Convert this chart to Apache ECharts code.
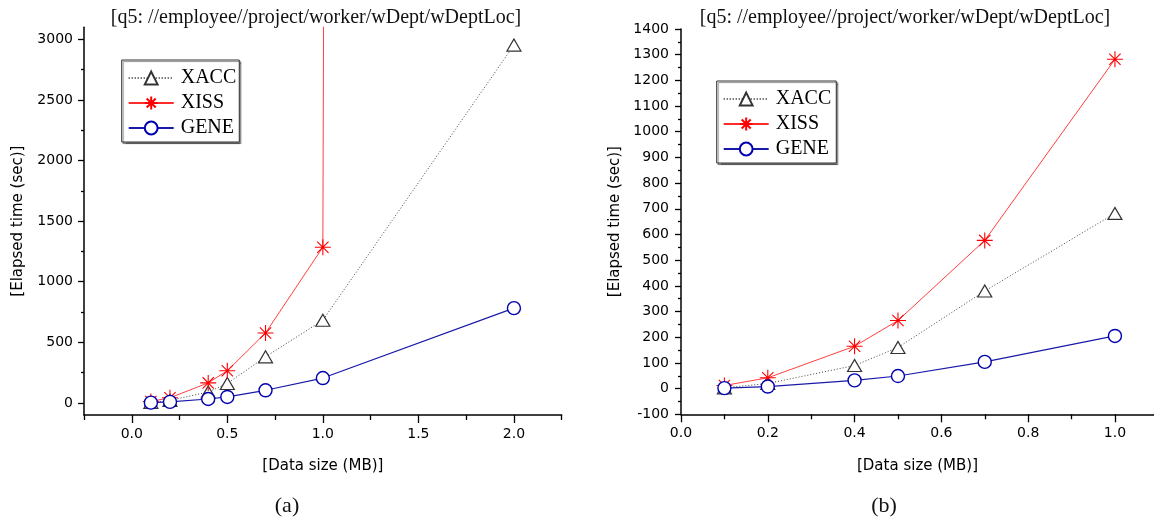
<!DOCTYPE html>
<html><head><meta charset="utf-8">
<script src="https://cdn.jsdelivr.net/npm/echarts@6/dist/echarts.min.js"></script>
<style>html,body{margin:0;padding:0;background:#fff}#c{width:1154px;height:521px}</style>
</head><body><div id="c"></div>
<script>
// ---- data ----
const TITLE = '[q5: //employee//project/worker/wDept/wDeptLoc]';
const seriesNames = ['XACC', 'XISS', 'GENE'];
// chart (a)
const sizesA = [0.1, 0.2, 0.4, 0.5, 0.7, 1.0, 2.0];
const xaccA = [3, 20, 90, 160, 380, 682, 2953];
const xissA = [12, 42, 165, 265, 577, 1285, 500000]; // last value is off the scale (line leaves the top)
const geneA = [2, 8, 32, 49, 104, 205, 782];
// chart (b)
const sizesB = [0.1, 0.2, 0.4, 0.5, 0.7, 1.0];
const xaccB = [3, 20, 90, 160, 380, 682];
const xissB = [12, 42, 165, 265, 577, 1282];
const geneB = [2, 8, 32, 49, 104, 205];
// ticks
const xTicksA = [0, 0.5, 1.0, 1.5, 2.0];
const xMinorA = [-0.25, 0.25, 0.75, 1.25, 1.75, 2.25];
const yTicksA = [0, 500, 1000, 1500, 2000, 2500, 3000];
const yMinorA = [250, 750, 1250, 1750, 2250, 2750];
const xTicksB = [0, 0.2, 0.4, 0.6, 0.8, 1.0];
const xMinorB = [0.1, 0.3, 0.5, 0.7, 0.9];
const yTicksB = [-100, 0, 100, 200, 300, 400, 500, 600, 700, 800, 900, 1000, 1100, 1200, 1300, 1400];
const yMinorB = [-50, 50, 150, 250, 350, 450, 550, 650, 750, 850, 950, 1050, 1150, 1250, 1350];

const zip = (xs, ys) => xs.map((x, i) => [x, ys[i]]);
const SANS = 'DejaVu Sans';
const SERIF = 'Liberation Serif';
const AXC = '#000';

function mainX(grid, min, max, ticks) {
  return {
    type: 'value', gridIndex: grid, min, max, position: 'bottom',
    axisLine: { show: true, onZero: false, lineStyle: { color: AXC, width: 1.5 } },
    axisTick: { show: true, customValues: ticks, length: 8, lineStyle: { color: AXC, width: 1.3 } },
    axisLabel: { customValues: ticks, formatter: v => Number(v).toFixed(1), margin: 12, color: '#000', fontFamily: SANS, fontSize: 14 },
    splitLine: { show: false },
    name: '[Data size (MB)]', nameLocation: 'middle', nameGap: 44,
    nameTextStyle: { fontFamily: SANS, fontSize: 15, color: '#000' }
  };
}
function minorX(grid, min, max, ticks) {
  return {
    type: 'value', gridIndex: grid, min, max, position: 'bottom',
    axisLine: { show: false, onZero: false },
    axisTick: { show: true, customValues: ticks, length: 5, lineStyle: { color: AXC, width: 1.3 } },
    axisLabel: { show: false }, splitLine: { show: false }
  };
}
function mainY(grid, min, max, ticks, margin) {
  return {
    type: 'value', gridIndex: grid, min, max, position: 'left',
    axisLine: { show: true, onZero: false, lineStyle: { color: AXC, width: 1.5 } },
    axisTick: { show: true, customValues: ticks, length: 6, lineStyle: { color: AXC, width: 1.3 } },
    axisLabel: { customValues: ticks, formatter: v => String(Math.round(v)), margin, color: '#000', fontFamily: SANS, fontSize: 14 },
    splitLine: { show: false },
    name: '[Elapsed time (sec)]', nameLocation: 'middle', nameGap: 58, nameRotate: 90,
    nameTextStyle: { fontFamily: SANS, fontSize: 15, color: '#000' }
  };
}
function minorY(grid, min, max, ticks) {
  return {
    type: 'value', gridIndex: grid, min, max, position: 'left',
    axisLine: { show: false, onZero: false },
    axisTick: { show: true, customValues: ticks, length: 3, lineStyle: { color: AXC, width: 1.3 } },
    axisLabel: { show: false }, splitLine: { show: false }
  };
}

const STAR = 'path://M0,-10L0,10M-10,0L10,0M-7.07,-7.07L7.07,7.07M-7.07,7.07L7.07,-7.07';
function makeSeries(axisIdx, xs, xacc, xiss, gene) {
  return [
    { name: 'XACC', type: 'line', xAxisIndex: axisIdx, yAxisIndex: axisIdx, data: zip(xs, xacc),
      symbol: 'triangle', symbolSize: [14, 12],
      lineStyle: { color: '#444', width: 1, type: [1, 2] },
      itemStyle: { color: '#fff', borderColor: '#333', borderWidth: 1.2 } },
    { name: 'XISS', type: 'line', xAxisIndex: axisIdx, yAxisIndex: axisIdx, data: zip(xs, xiss),
      symbol: STAR, symbolSize: 16,
      lineStyle: { color: '#ff2a2a', width: 0.9 },
      itemStyle: { color: '#ff0000', borderColor: '#ff0000', borderWidth: 1.1 } },
    { name: 'GENE', type: 'line', xAxisIndex: axisIdx, yAxisIndex: axisIdx, data: zip(xs, gene),
      symbol: 'circle', symbolSize: 13,
      lineStyle: { color: '#1a1aaa', width: 1.2 },
      itemStyle: { color: '#fff', borderColor: '#0000b0', borderWidth: 1.4 } }
  ].map(s => Object.assign(s, { animation: false, clip: true, emphasis: { disabled: true } }));
}

function legendAt(left, top, pad) {
  return {
    data: seriesNames, orient: 'vertical', left, top, selectedMode: false,
    itemWidth: 45, itemHeight: 16, itemGap: 5,
    padding: pad, borderColor: '#333', borderWidth: 1, backgroundColor: '#fff',
    shadowColor: 'rgba(0,0,0,0.45)', shadowBlur: 1, shadowOffsetX: 1.5, shadowOffsetY: 1.5,
    textStyle: { fontFamily: SERIF, fontSize: 20, lineHeight: 20, color: '#000', padding: [0, 0, 0, 2] }
  };
}

const chart = echarts.init(document.getElementById('c'), null, { renderer: 'canvas' });
chart.setOption({
  backgroundColor: '#fff',
  animation: false,
  grid: [
    { left: 84, top: 27.3, right: 592.3, bottom: 106 },
    { left: 681, top: 29, right: 0, bottom: 106.7 }
  ],
  xAxis: [
    mainX(0, -0.25, 2.25, xTicksA),
    mainX(1, 0, 1.09, xTicksB),
    minorX(0, -0.25, 2.25, xMinorA),
    minorX(1, 0, 1.09, xMinorB)
  ],
  yAxis: [
    mainY(0, -100, 3100, yTicksA, 11),
    mainY(1, -100, 1400, yTicksB, 12),
    minorY(0, -100, 3100, yMinorA),
    minorY(1, -100, 1400, yMinorB)
  ],
  legend: [
    legendAt(121.7, 60, [8, 3, 4, 6]),
    legendAt(716.7, 81, [8, 5, 4, 6])
  ],
  series: [].concat(makeSeries(0, sizesA, xaccA, xissA, geneA), makeSeries(1, sizesB, xaccB, xissB, geneB)),
  graphic: [
    { type: 'text', x: 316, y: 18, style: { text: TITLE, font: '20px "' + SERIF + '"', fill: '#111', align: 'center', verticalAlign: 'middle' } },
    { type: 'text', x: 905, y: 18, style: { text: TITLE, font: '20px "' + SERIF + '"', fill: '#111', align: 'center', verticalAlign: 'middle' } },
    { type: 'text', x: 287, y: 506, style: { text: '(a)', font: '22px "' + SERIF + '"', fill: '#111', align: 'center', verticalAlign: 'middle' } },
    { type: 'text', x: 884, y: 506, style: { text: '(b)', font: '22px "' + SERIF + '"', fill: '#111', align: 'center', verticalAlign: 'middle' } }
  ]
});
</script></body></html>
